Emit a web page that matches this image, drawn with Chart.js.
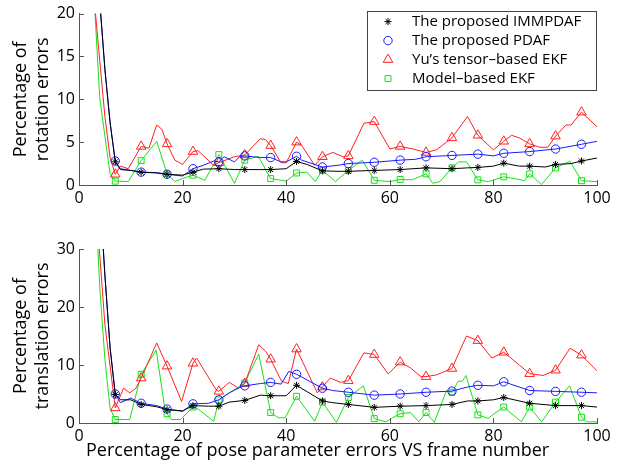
<!DOCTYPE html>
<html>
<head>
<meta charset="utf-8">
<script src="https://cdn.jsdelivr.net/npm/chart.js@4.4.1/dist/chart.umd.min.js"></script>
<style>
html, body { margin: 0; padding: 0; background: #fff; }
#wrap { position: relative; width: 618px; height: 468px; }
canvas { position: absolute; left: 0; }
</style>
</head>
<body>
<div id="wrap">
  <canvas id="rot" width="618" height="232" style="top:0px"></canvas>
  <canvas id="trans" width="618" height="236" style="top:232px"></canvas>
</div>
<script>
// series names (legend order)
const seriesNames = ['The proposed IMMPDAF', 'The proposed PDAF', 'Yu\u2019s tensor\u2013based EKF', 'Model\u2013based EKF']
// frames where the markers sit
const markFrames = [7, 12, 17, 22, 27, 32, 37, 42, 47, 52, 57, 62, 67, 72, 77, 82, 87, 92, 97]
const xTicks = [0, 20, 40, 60, 80, 100]
const rotTicks = [0, 5, 10, 15, 20]
const transTicks = [0, 10, 20, 30]

// rotation errors [frame, %]
const rotImm = [[3, 30], [4, 21.5], [5, 13.5], [6, 7.3], [7, 2.7], [8, 1.8], [10, 1.7], [12, 1.5], [15, 1.4], [17, 1.25], [20, 1.15], [22, 1.5], [24, 1.85], [27, 1.9], [30, 1.8], [32, 1.8], [35, 1.8], [37, 1.8], [40, 1.9], [42, 2.75], [44, 2.4], [47, 1.65], [50, 1.6], [52, 1.6], [57, 1.7], [62, 1.8], [67, 2.0], [72, 1.9], [75, 2.0], [77, 2.05], [80, 2.2], [82, 2.55], [85, 2.2], [87, 2.2], [90, 2.1], [92, 2.4], [95, 2.5], [97, 2.8], [100, 3.15]]
const rotPdaf = [[3, 30], [4, 21.5], [5, 13.5], [6, 7.3], [7, 2.8], [8, 1.9], [10, 1.7], [12, 1.5], [15, 1.45], [17, 1.25], [20, 1.05], [22, 1.9], [24, 2.3], [26, 2.8], [27, 2.7], [28, 3.3], [30, 2.7], [31, 3.3], [32, 3.4], [35, 3.2], [37, 3.2], [39, 2.7], [40, 2.7], [42, 3.35], [43, 2.9], [47, 2.1], [50, 2.3], [52, 2.5], [57, 2.65], [62, 2.9], [65, 3.0], [67, 3.3], [72, 3.45], [77, 3.6], [80, 3.4], [82, 3.7], [87, 3.9], [92, 4.2], [97, 4.75], [100, 5.1]]
const rotYu = [[2, 33], [3, 21.3], [4, 14.5], [5, 8], [6, 3.2], [7, 1.25], [8, 2.2], [9.5, 1.9], [12, 4.5], [13.5, 4.3], [15, 7.0], [16, 6.5], [17, 4.8], [18.5, 2.9], [20, 2.4], [22, 3.9], [23, 4.0], [26, 2.3], [27, 2.6], [30, 3.3], [32, 3.5], [35, 5.4], [36, 5.3], [37, 4.6], [39, 2.6], [40, 2.6], [42, 5.0], [43, 4.6], [45.5, 2.3], [47, 3.3], [49, 3.8], [51, 3.3], [52, 3.4], [55, 7.2], [57, 7.4], [60, 4.2], [62, 4.5], [64.5, 4.2], [67, 3.8], [69, 4.1], [72, 5.5], [75, 8.0], [77, 5.8], [80, 4.1], [82, 5.1], [83.5, 5.8], [85, 5.5], [87, 4.8], [89, 4.4], [90.5, 4.4], [92, 5.7], [94, 7.0], [95, 7.0], [97, 8.5], [100, 6.8]]
const rotModel = [[2, 32], [3, 21], [4, 10.2], [5, 5.7], [6, 1.3], [7, 0.45], [9.5, 0.4], [12, 2.85], [15, 5.1], [17, 1.3], [18.5, 0.4], [20, 0.75], [22, 1.15], [24.3, 0.55], [27, 3.55], [30, 0.2], [32, 2.9], [34.6, 3.35], [37, 0.75], [39, 0.55], [40, 0.45], [42, 1.4], [44, 1.5], [45.6, 0.4], [47, 1.7], [49.5, 0.4], [52, 1.7], [54.7, 2.9], [57, 0.55], [60, 0.4], [62, 0.65], [64.3, 0.6], [67, 1.3], [68.3, 0.2], [69.7, 0.4], [72, 2.0], [73.3, 2.7], [74.8, 2.7], [77, 0.6], [79, 0.4], [82, 0.95], [84.5, 0.7], [86, 0.5], [87, 1.3], [89.3, 0.05], [92, 2.0], [94.8, 2.75], [97, 0.5], [100, 0.4]]

// translation errors [frame, %]
const transImm = [[3, 55], [4, 40], [5, 25.5], [6, 13], [7, 4.9], [8, 4.0], [10, 4.0], [12, 3.2], [15, 2.8], [17, 2.3], [20, 2.1], [22, 3.0], [25, 2.9], [27, 2.9], [29, 3.6], [32, 3.9], [35, 4.8], [37, 4.7], [40, 4.7], [42, 6.5], [47, 3.8], [49, 3.5], [52, 3.2], [57, 2.7], [62, 2.9], [67, 3.0], [72, 3.2], [75, 3.8], [77, 3.8], [80, 4.0], [82, 4.4], [87, 3.4], [92, 3.0], [97, 3.0], [100, 2.75]]
const transPdaf = [[3, 55], [4, 40], [5, 25.5], [6, 13], [7, 5.0], [8, 3.5], [10, 4.3], [12, 3.4], [15, 3.0], [17, 2.4], [20, 2.0], [22, 3.3], [25, 3.4], [27, 4.0], [29, 5.2], [31, 6.1], [32, 6.4], [35, 6.8], [37, 7.0], [39, 6.7], [40.5, 8.9], [42, 8.4], [47, 6.0], [49, 5.6], [52, 5.3], [57, 4.8], [62, 5.0], [67, 5.3], [72, 5.5], [75, 6.2], [77, 6.5], [80, 6.4], [82, 7.1], [87, 5.6], [92, 5.45], [97, 5.3], [100, 5.2]]
const transYu = [[2, 50], [3, 41], [4, 29], [5, 17], [6, 9.8], [7, 2.6], [8.6, 6.0], [9.8, 5.2], [11, 6.0], [12, 7.75], [15, 13.8], [17, 9.8], [19.8, 3.7], [22, 10.3], [22.7, 11.2], [26.5, 5.7], [27, 5.45], [29, 7.0], [30.8, 6.0], [32, 6.8], [34.7, 13.5], [36, 12.4], [37, 11.0], [39.1, 7.2], [40.4, 6.8], [42, 12.75], [46, 5.2], [47, 6.2], [48.5, 7.75], [50.5, 7.0], [52, 7.3], [55, 12.1], [57, 11.8], [59.7, 8.45], [62, 10.5], [64, 9.5], [66, 8.0], [67, 8.0], [69, 8.3], [72, 9.4], [74.8, 15.0], [77, 14.2], [79.7, 11.2], [82, 12.2], [85, 10.0], [87, 8.5], [89.6, 8.2], [92, 9.1], [94.8, 12.9], [97, 11.7], [100, 9.0]]
const transModel = [[2, 55], [3, 42], [4, 23.5], [5, 11], [6, 2.5], [7, 0.6], [9.8, 0.6], [12, 8.4], [14.9, 12.6], [16.6, 2.3], [17, 1.6], [17.8, 0.6], [19.6, 0.6], [22, 2.75], [23, 2.4], [26, 0.3], [27, 4.0], [32, 6.9], [34.7, 11.9], [37, 1.8], [38.5, 0.9], [39.8, 0.9], [42, 4.6], [45.5, 0.3], [47, 3.6], [49.7, 0.1], [52, 4.4], [54.9, 6.4], [57, 0.75], [59.3, 0.2], [60.3, 0.8], [62, 1.6], [64, 1.8], [65.6, 0.2], [67, 1.8], [68.6, 0.1], [70.9, 5.5], [72, 5.3], [73.2, 7.2], [74, 7.2], [74.7, 8.2], [77, 1.4], [79, 0.8], [80, 1.5], [82, 2.75], [85.4, 0.2], [87, 2.75], [89.3, 0.2], [92, 3.6], [94.7, 6.4], [97, 1.0], [98, 0.2], [100, 0.2]]

const looks = [
  { color: '#000000', style: 'star', r: 3.5 },
  { color: '#1a1aff', style: 'circle', r: 4.2 },
  { color: '#ff2020', style: 'triangle', r: 5.5 },
  { color: '#18e018', style: 'rect', r: 4.2 }
]
const axisColor = '#555'
const FONT = 'Open Sans'

function makeSets(list) {
  return list.map((pts, i) => ({
    label: seriesNames[i],
    data: pts.map(p => ({ x: p[0], y: p[1] })),
    borderColor: looks[i].color,
    borderWidth: 1,
    pointStyle: looks[i].style,
    pointBorderColor: looks[i].color,
    pointBackgroundColor: 'rgba(0,0,0,0)',
    pointBorderWidth: 1,
    pointRadius: c => (c.raw && markFrames.includes(c.raw.x)) ? looks[i].r : 0,
    tension: 0,
    fill: false
  }))
}

// MATLAB style ticks that point into the plot
const inwardTicks = {
  id: 'inwardTicks',
  afterDatasetsDraw(chart) {
    const { ctx, chartArea: a, scales: { x, y } } = chart
    ctx.save()
    ctx.strokeStyle = axisColor
    ctx.lineWidth = 1
    ctx.beginPath()
    x.ticks.forEach(t => {
      const px = Math.round(x.getPixelForValue(t.value)) + 0.5
      ctx.moveTo(px, a.bottom); ctx.lineTo(px, a.bottom - 5)
    })
    y.ticks.forEach(t => {
      const py = Math.round(y.getPixelForValue(t.value)) + 0.5
      ctx.moveTo(a.left, py); ctx.lineTo(a.left + 5, py)
    })
    ctx.stroke()
    ctx.restore()
  }
}

function marker(ctx, style, r, x, y) {
  if (Chart.helpers && Chart.helpers.drawPoint) {
    Chart.helpers.drawPoint(ctx, { pointStyle: style, radius: r, borderWidth: 1, rotation: 0 }, x, y)
  }
}

// boxed legend in the upper right corner of the plot
const boxLegend = {
  id: 'boxLegend',
  afterDraw(chart, args, opts) {
    if (!opts.show) return
    const { ctx, chartArea: a } = chart
    const w = 230, h = 79
    const left = a.right - w, top = a.top - 3
    ctx.save()
    ctx.fillStyle = '#fff'
    ctx.fillRect(left, top, w, h)
    ctx.strokeStyle = '#444'
    ctx.lineWidth = 1
    ctx.strokeRect(Math.round(left) + 0.5, Math.round(top) + 0.5, w - 1, h)
    ctx.font = '15px "' + FONT + '"'
    ctx.textBaseline = 'middle'
    chart.data.datasets.forEach((ds, i) => {
      const cy = top + 11 + i * 19
      ctx.strokeStyle = looks[i].color
      ctx.fillStyle = 'rgba(0,0,0,0)'
      marker(ctx, looks[i].style, looks[i].r, left + 21, cy)
      ctx.fillStyle = '#000'
      ctx.fillText(ds.label, left + 45, cy)
    })
    ctx.restore()
  }
}

// x axis caption, placed like the original figure
const xCaption = {
  id: 'xCaption',
  afterDraw(chart, args, opts) {
    if (!opts.text) return
    const { ctx, chartArea: a } = chart
    ctx.save()
    ctx.font = '18px "' + FONT + '"'
    ctx.fillStyle = '#000'
    ctx.textAlign = 'left'
    ctx.textBaseline = 'middle'
    ctx.fillText(opts.text, a.left + 7, a.bottom + 28)
    ctx.restore()
  }
}

function makeChart(id, sets, yMax, yTitle, xTitle, padTop, xHeight, legend) {
  return new Chart(document.getElementById(id), {
    type: 'line',
    data: { datasets: makeSets(sets) },
    options: {
      responsive: false,
      animation: false,
      events: [],
      layout: { padding: { top: padTop, right: 21, left: 0, bottom: 0 } },
      plugins: { legend: { display: false }, tooltip: { enabled: false }, boxLegend: { show: legend }, xCaption: { text: xTitle } },
      scales: {
        x: {
          type: 'linear', min: 0, max: 100,
          afterBuildTicks: s => { s.ticks = xTicks.map(v => ({ value: v })) },
          afterFit: s => { s.height = xHeight },
          grid: { display: false, drawTicks: false },
          border: { display: true, color: axisColor },
          ticks: { color: '#000', padding: 4, font: { family: FONT, size: 16 } }
        },
        y: {
          type: 'linear', min: 0, max: yMax,
          afterBuildTicks: s => { s.ticks = (yMax === 20 ? rotTicks : transTicks).map(v => ({ value: v })) },
          afterFit: s => { s.width = 79 },
          grid: { display: false, drawTicks: false },
          border: { display: true, color: axisColor },
          ticks: { color: '#000', padding: 4, font: { family: FONT, size: 16 } },
          title: { display: true, text: yTitle, color: '#000', padding: { top: 10, bottom: 0 }, font: { family: FONT, size: 18, lineHeight: 1.22 } }
        }
      }
    },
    plugins: [inwardTicks, boxLegend, xCaption]
  })
}

makeChart('rot', [rotImm, rotPdaf, rotYu, rotModel], 20, ['Percentage of', 'rotation errors'], '', 11, 47, true)
makeChart('trans', [transImm, transPdaf, transYu, transModel], 30, ['Percentage of', 'translation errors'], 'Percentage of pose parameter errors VS frame number', 17, 45, false)
</script>
</body>
</html>
